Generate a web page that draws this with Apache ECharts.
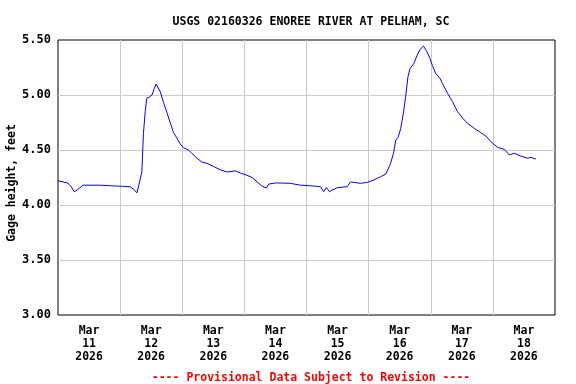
<!DOCTYPE html>
<html>
<head>
<meta charset="utf-8">
<script src="https://cdn.jsdelivr.net/npm/echarts@6/dist/echarts.min.js"></script>
<style>
html,body{margin:0;padding:0;background:#fff;}
#chart{width:576px;height:384px;}
</style>
</head>
<body>
<div id="chart"></div>
<script>
// Hours since 2026-03-11 00:00 and gage height (feet)
var hours = [0, 3.75, 5.0, 6.3, 7.6, 9.7, 12.4, 16.3, 20.1, 25.0, 27.9, 29.4, 30.5, 31.2,
  32.4, 33.0, 33.7, 34.3, 35.2, 36.3, 37.2, 37.9, 39.5, 40.8, 42.1, 43.4, 44.6, 45.9,
  47.2, 48.5, 50.4, 51.7, 53.7, 55.6, 57.5, 60.1, 62.7, 65.3, 68.5, 70.5, 73.0, 75.0,
  76.9, 78.9, 80.5, 81.4, 84.0, 85.9, 89.8, 93.7, 97.5, 101.4, 102.6, 103.7, 104.9,
  105.9, 107.9, 111.7, 113.0, 116.9, 119.5, 122.0, 124.6, 126.6, 128.2, 128.5, 129.6,
  130.5, 131.4, 132.4, 133.4, 134.3, 135.2, 136.0, 137.5, 138.8, 139.9, 141.2, 142.5,
  143.7, 144.6, 145.9, 147.6, 148.5, 150.5, 152.4, 154.3, 156.3, 158.2, 160.8, 163.4,
  165.3, 167.2, 169.8, 172.4, 174.3, 176.3, 178.8, 181.4, 182.7, 184.6];
var gageHeight = [4.22, 4.20, 4.17, 4.12, 4.14, 4.18, 4.18, 4.18, 4.175, 4.17, 4.165, 4.14,
  4.11, 4.11, 4.30, 4.65, 4.85, 4.97, 4.98, 5.00, 5.06, 5.10, 5.03, 4.93, 4.84, 4.745,
  4.66, 4.61, 4.555, 4.52, 4.50, 4.47, 4.425, 4.39, 4.38, 4.35, 4.32, 4.30, 4.31, 4.29,
  4.27, 4.25, 4.21, 4.17, 4.155, 4.19, 4.20, 4.20, 4.197, 4.18, 4.175, 4.167, 4.12,
  4.16, 4.12, 4.136, 4.157, 4.167, 4.21, 4.197, 4.206, 4.227, 4.257, 4.28, 4.36, 4.38,
  4.47, 4.59, 4.615, 4.697, 4.83, 4.985, 5.167, 5.24, 5.288, 5.364, 5.415, 5.445, 5.394,
  5.333, 5.27, 5.197, 5.15, 5.106, 5.015, 4.94, 4.85, 4.79, 4.742, 4.697, 4.657, 4.627,
  4.576, 4.524, 4.506, 4.455, 4.47, 4.445, 4.425, 4.433, 4.418];
var dayLabels = ['Mar\n11\n2026', 'Mar\n12\n2026', 'Mar\n13\n2026', 'Mar\n14\n2026',
  'Mar\n15\n2026', 'Mar\n16\n2026', 'Mar\n17\n2026', 'Mar\n18\n2026'];
var yTicks = [3.0, 3.5, 4.0, 4.5, 5.0, 5.5];
var titleText = 'USGS 02160326 ENOREE RIVER AT PELHAM, SC';
var yName = 'Gage height, feet';
var footerText = '---- Provisional Data Subject to Revision ----';

var FONT = '"DejaVu Sans Mono", monospace';
var points = hours.map(function (h, i) { return [h, gageHeight[i]]; });

var chart = echarts.init(document.getElementById('chart'), null, {renderer: 'canvas'});
chart.setOption({
  animation: false,
  backgroundColor: '#ffffff',
  title: [{
    text: titleText, left: 306, top: 11, textAlign: 'center',
    textStyle: {fontFamily: FONT, fontSize: 11.5, fontWeight: 'bold', color: '#000'}
  }, {
    text: footerText, left: 306, top: 367, textAlign: 'center',
    textStyle: {fontFamily: FONT, fontSize: 11.5, fontWeight: 'bold', color: '#ff0000'}
  }],
  graphic: [{
    type: 'text', x: 12, y: 183, rotation: Math.PI / 2,
    style: {text: yName, fill: '#000', align: 'center', verticalAlign: 'middle',
      font: 'bold 11.5px "DejaVu Sans Mono", monospace'}
  }],
  grid: {left: 58, right: 21, top: 40, bottom: 69, show: true, outerBoundsMode: 'none', containLabel: false,
    borderColor: '#000', borderWidth: 1, backgroundColor: 'transparent'},
  xAxis: [{
    type: 'value', min: 0, max: 192, interval: 24,
    axisLine: {show: false}, axisTick: {show: false}, axisLabel: {show: false},
    splitLine: {show: true, showMinLine: false, showMaxLine: false, lineStyle: {color: '#cccccc', width: 1}}
  }, {
    type: 'category', data: dayLabels, boundaryGap: true, position: 'bottom',
    axisLine: {show: false}, axisTick: {show: false}, splitLine: {show: false},
    axisLabel: {fontFamily: FONT, fontSize: 11.5, fontWeight: 'bold', color: '#000',
      lineHeight: 13, margin: 10, interval: 0}
  }],
  yAxis: {
    type: 'value', min: yTicks[0], max: yTicks[yTicks.length - 1], interval: 0.5,
    axisLine: {show: false}, axisTick: {show: false},
    axisLabel: {fontFamily: FONT, fontSize: 12, fontWeight: 'bold', color: '#000', margin: 7,
      formatter: function (v) { return v.toFixed(2); }},
    splitLine: {show: true, showMinLine: false, showMaxLine: false, lineStyle: {color: '#cccccc', width: 1}}
  },
  series: [{
    type: 'line', xAxisIndex: 0, data: points, showSymbol: false,
    lineStyle: {color: '#0000ff', width: 1}, itemStyle: {color: '#0000ff'}
  }]
});
</script>
</body>
</html>
